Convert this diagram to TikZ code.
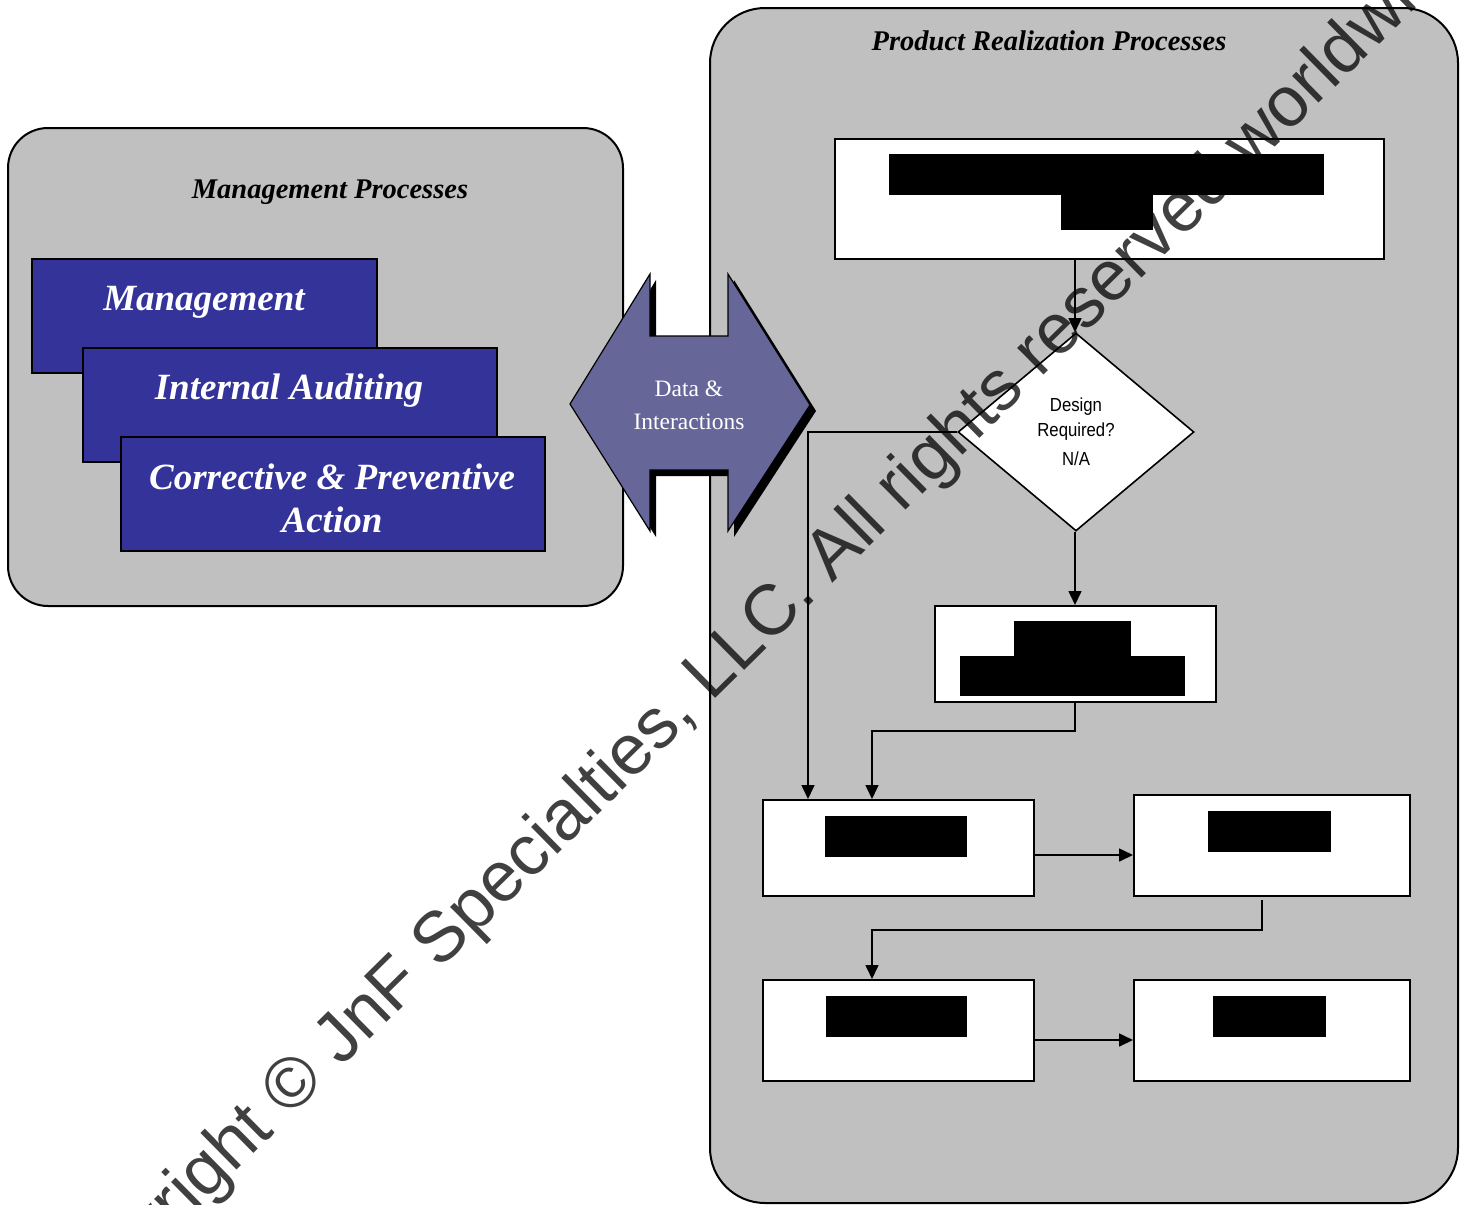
\documentclass[tikz,border=0pt]{standalone}
\usepackage{fontspec}
\setmainfont{Liberation Serif}
\newfontfamily\arialf{Liberation Sans}
\usetikzlibrary{arrows.meta,shapes.geometric,calc}
\definecolor{panelgray}{HTML}{C0C0C0}
\definecolor{procblue}{HTML}{333399}
\definecolor{arrowblue}{HTML}{666699}
\tikzset{
  panel/.style={draw=black, line width=2pt, fill=panelgray, rounded corners=#1},
  bluebox/.style={draw=black, line width=2pt, fill=procblue, inner sep=0pt},
  bluetext/.style={text=white, font=\fontsize{37}{43}\selectfont\bfseries\itshape, align=center},
  ptitle/.style={font=\fontsize{28.5}{34}\selectfont\bfseries\itshape},
  flowbox/.style={draw=black, line width=2pt, fill=white, inner sep=0pt},
  redact/.style={fill=black},
  conn/.style={line width=1.6pt, -{Triangle[length=14pt,width=13pt]}},
}
\begin{document}
\begin{tikzpicture}[x=1pt,y=-1pt]
\useasboundingbox (0,0) rectangle (1468,1205);
\fill[white] (0,0) rectangle (1468,1205);

% panels
\draw[panel=40pt] (8,128) rectangle (623,606);
\draw[panel=55pt] (710,8) rectangle (1458,1203);
\node[ptitle] (mtitle) at (330,192.5) {Management Processes};
\node[ptitle] (ptitle) at (1049,41) {Product Realization Processes};

% management processes stack
\node[bluebox, minimum width=345pt, minimum height=114pt] (mgmt) at (204.5,316) {};
\node[bluebox, minimum width=414pt, minimum height=114pt] (audit) at (290,405) {};
\node[bluebox, minimum width=424pt, minimum height=114pt] (capa) at (333,494) {};
\node[bluetext] (mgmtt) at (204,302) {Management};
\node[bluetext] (auditt) at (289,391) {Internal Auditing};
\node[bluetext] (capat) at (332,498) {Corrective \& Preventive\\Action};

% double arrow with shadow
\fill[black] ([shift={(6,6)}]570,404) -- ([shift={(6,6)}]650,274) -- ([shift={(6,6)}]650,336) -- ([shift={(6,6)}]728,336) -- ([shift={(6,6)}]728,274) -- ([shift={(6,6)}]810,405) -- ([shift={(6,6)}]728,531) -- ([shift={(6,6)}]728,470) -- ([shift={(6,6)}]650,470) -- ([shift={(6,6)}]650,531) -- cycle;
\draw[fill=arrowblue, line width=1.2pt, line join=miter] (570,404) -- (650,274) -- (650,336) -- (728,336) -- (728,274) -- (810,405) -- (728,531) -- (728,470) -- (650,470) -- (650,531) -- cycle;
\node[text=white, font=\fontsize{23.5}{33}\selectfont, align=center] (data) at (689,405) {Data \&\\Interactions};

% flowchart
\node[flowbox, minimum width=549pt, minimum height=120pt] (top) at (1109.5,199) {};
\fill[redact] (889,154) rectangle (1324,195);
\fill[redact] (1061,195) rectangle (1153,230);

\node[draw=black, line width=1.6pt, fill=white, diamond, inner sep=0pt, minimum width=236pt, minimum height=198pt, align=center, font=\arialf\fontsize{18}{25}\selectfont] (dia) at (1076,432) {\scalebox{0.93}[1.05]{Design}\\\scalebox{0.93}[1.05]{Required?}\\[4pt]\scalebox{0.93}[1.05]{N/A}};

\node[flowbox, minimum width=281pt, minimum height=96pt] (b2) at (1075.5,654) {};
\fill[redact] (1014,621) rectangle (1131,656);
\fill[redact] (960,656) rectangle (1185,696);

\node[flowbox, minimum width=271pt, minimum height=96pt] (b3) at (898.5,848) {};
\fill[redact] (825,816) rectangle (967,857);
\node[flowbox, minimum width=276pt, minimum height=101pt] (b4) at (1272,845.5) {};
\fill[redact] (1208,811) rectangle (1331,852);
\node[flowbox, minimum width=271pt, minimum height=101pt] (b5) at (898.5,1030.5) {};
\fill[redact] (826,996) rectangle (967,1037);
\node[flowbox, minimum width=276pt, minimum height=101pt] (b6) at (1272,1030.5) {};
\fill[redact] (1213,996) rectangle (1326,1037);

% connectors
\coordinate (xa) at (1075,0);
\coordinate (xl) at (808,0);
\coordinate (xm) at (872,0);
\coordinate (xr) at (1262,0);
\coordinate (y731) at (0,731);
\coordinate (y930) at (0,930);
\coordinate (y855) at (0,855);
\coordinate (y1040) at (0,1040);
\coordinate (b4out) at (1262,900);

\draw[conn] (top.south -| xa) -- (dia.north -| xa);
\draw[conn] (dia.west) -| (b3.north -| xl);
\draw[conn] (dia.south -| xa) -- (b2.north -| xa);
\draw[conn] (b2.south -| xa) -- (xa |- y731) -| (b3.north -| xm);
\draw[conn] (b3.east |- y855) -- (b4.west |- y855);
\draw[conn] (b4out) -- (xr |- y930) -| (b5.north -| xm);
\draw[conn] (b5.east |- y1040) -- (b6.west |- y1040);

% watermark
\node[rotate=44.6, text=black, text opacity=0.75, font=\arialf\fontsize{71}{85}\selectfont, inner sep=0pt] (wm) at (755,634) {Copyright © JnF Specialties, LLC. All rights reserved worldwide};
\end{tikzpicture}
\end{document}
